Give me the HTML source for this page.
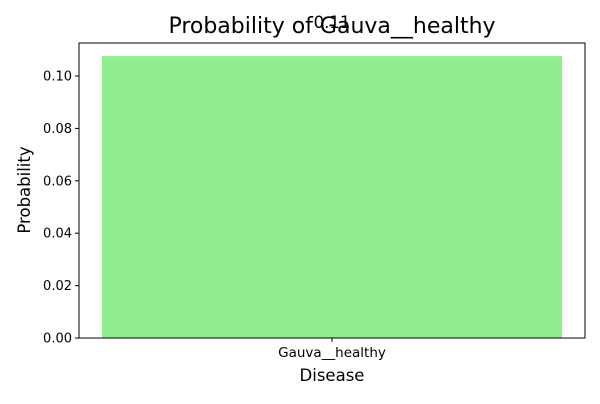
<!DOCTYPE html>
<html><head><meta charset="utf-8"><style>
body{margin:0;background:#fff;width:600px;height:400px;overflow:hidden;font-family:"DejaVu Sans",sans-serif}
</style></head><body>
<svg width="600" height="400" id="chart" font-family="DejaVu Sans, sans-serif">
<text x="332" y="33" font-size="22" text-anchor="middle">Probability of Gauva__healthy</text>
<text x="332" y="381" font-size="16.5" text-anchor="middle">Disease</text>
<text transform="translate(30,190) rotate(-90)" font-size="16.5" text-anchor="middle">Probability</text>
<g id="plot"></g>
</svg>
<script>
const categories=["Gauva__healthy"];
const values=[0.1076];
const valueLabels=["0.11"];
const yTicks=[0,0.02,0.04,0.06,0.08,0.10];
const yTickLabels=["0.00","0.02","0.04","0.06","0.08","0.10"];
const L=79,R=585,T=43,B=338,yMax=0.1126;
const ns="http://www.w3.org/2000/svg";
const g=document.getElementById('plot');
function y(v){return B-(v/yMax)*(B-T);}
const band=(R-L)/categories.length;
function xc(i){return L+band*(i+0.5);}
const bw=460;
function el(t,a){const e=document.createElementNS(ns,t);for(const k in a)e.setAttribute(k,a[k]);g.appendChild(e);return e;}
values.forEach((v,i)=>{
  const r=el('rect',{x:xc(i)-bw/2,y:y(v),width:bw,height:B-y(v),fill:'#90ee90'});
  
  
  const t=el('text',{x:xc(i),y:28,'font-size':16.5,'text-anchor':'middle'});
  t.textContent=valueLabels[i];
  
  
  const tk=el('line',{x1:xc(i),x2:xc(i),y1:B,y2:B+4,stroke:'#000'});
  
  
  const tl=el('text',{x:xc(i),y:B+19,'font-size':13.5,'text-anchor':'middle'});
  tl.textContent=categories[i];
  
  
});
yTicks.forEach((v,i)=>{
  const tk=el('line',{x1:L-4,x2:L,y1:y(v),y2:y(v),stroke:'#000'});
  
  
  const tl=el('text',{x:L-7,y:y(v)+4.5,'font-size':13,'text-anchor':'end'});
  tl.textContent=yTickLabels[i];
  
  
});
const fr=el('rect',{x:L,y:T,width:R-L,height:B-T,fill:'none',stroke:'#000','stroke-width':1});


</script>
</body></html>
